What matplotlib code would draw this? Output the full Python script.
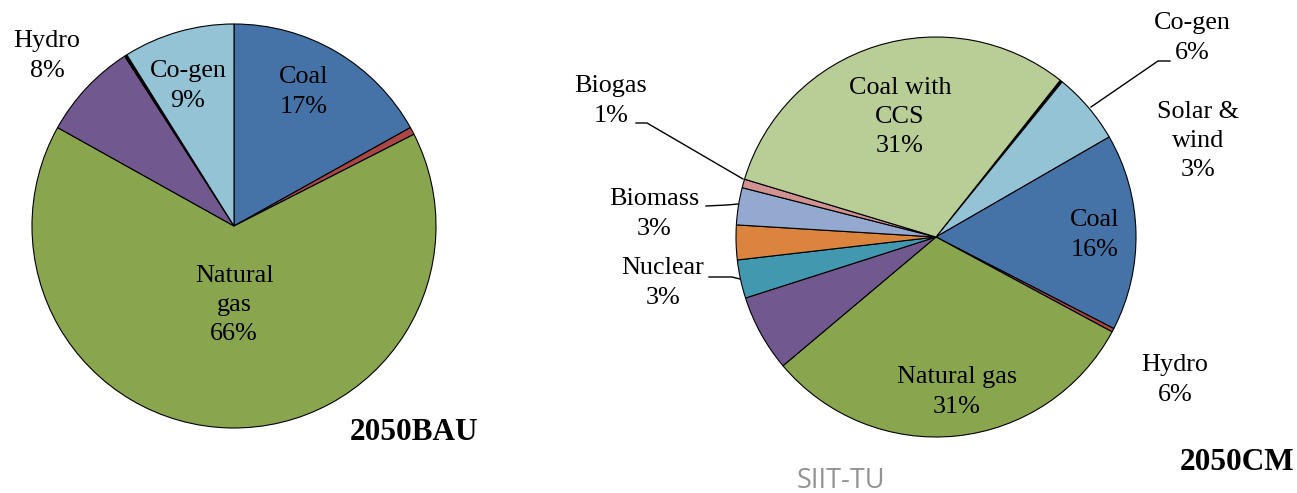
import matplotlib.pyplot as plt

plt.rcParams['font.family'] = ['Liberation Serif', 'DejaVu Serif']

W, H = 1297, 493

# --- 2050BAU shares (%), clockwise from 12 o'clock ---
bau_names = ['Coal', 'Other', 'Natural gas', 'Hydro', 'Minor', 'Co-gen']
bau_values = [16.9, 0.6, 65.6, 7.8, 0.2, 8.9]
bau_colors = ['#4572A7', '#AA4643', '#89A54E', '#71588F', '#000000', '#93C3D5']

# --- 2050CM shares (%), clockwise from the CCS / co-gen border ---
cm_names = ['Minor', 'Co-gen', 'Coal', 'Other', 'Natural gas', 'Hydro',
            'Nuclear', 'Unlabelled', 'Biomass', 'Biogas', 'Coal with CCS']
cm_values = [0.2, 5.8, 15.9, 0.3, 31.0, 6.2, 3.1, 2.8, 3.0, 0.7, 31.0]
cm_colors = ['#000000', '#93C3D5', '#4572A7', '#AA4643', '#89A54E', '#71588F',
             '#4198AF', '#DB843D', '#93A9CF', '#D19392', '#B9CD96']

fig = plt.figure(figsize=(W / 100, H / 100), dpi=100)
ax = fig.add_axes([0, 0, 1, 1])

wp = dict(edgecolor='black', linewidth=0.8)
ax.pie(bau_values, colors=bau_colors, startangle=90, counterclock=False,
       center=(234, H - 226), radius=202, wedgeprops=wp)
ax.pie(cm_values, colors=cm_colors, startangle=51.6, counterclock=False,
       center=(936, H - 237), radius=200, wedgeprops=wp)

ax.set_xlim(0, W)
ax.set_ylim(0, H)
ax.set_aspect('equal')
ax.axis('off')


def label(x, y, s, size=18.8, **kw):
    ax.text(x, H - y, s, ha='center', va='center', multialignment='center',
            fontsize=size, linespacing=1.42, **kw)


# left pie labels
label(304, 92, 'Coal\n17%')
label(188, 86, 'Co-gen\n9%')
label(47, 56, 'Hydro\n8%')
label(234, 305, 'Natural\ngas\n66%')
label(414, 433, '2050BAU', size=22.5, fontweight='bold')

# right pie labels
label(900, 117, 'Coal with\nCCS\n31%')
label(1095, 235, 'Coal\n16%')
label(1192, 38, 'Co-gen\n6%')
label(1198, 141, 'Solar &\nwind\n3%')
label(1175, 380, 'Hydro\n6%')
label(957, 392, 'Natural gas\n31%')
label(611, 101, 'Biogas\n1%')
label(654, 214, 'Biomass\n3%')
label(663, 283, 'Nuclear\n3%')
label(1237, 462, '2050CM', size=22.5, fontweight='bold')

ax.text(841, H - 481, 'SIIT-TU', ha='center', va='center', fontsize=19.5,
        color='#939393', family=['Open Sans', 'DejaVu Sans'])

# leader lines
leaders = [
    [(1170, 61), (1158, 61), (1091, 107)],   # co-gen
    [(636, 123), (647, 123), (743, 179)],    # biogas
    [(706, 206), (727, 205), (738, 204)],    # biomass
    [(709, 277), (732, 277), (740, 279)],    # nuclear
]
for pts in leaders:
    xs = [p[0] for p in pts]
    ys = [H - p[1] for p in pts]
    ax.plot(xs, ys, color='black', linewidth=1.0)

fig.savefig('out.png', dpi=100)
